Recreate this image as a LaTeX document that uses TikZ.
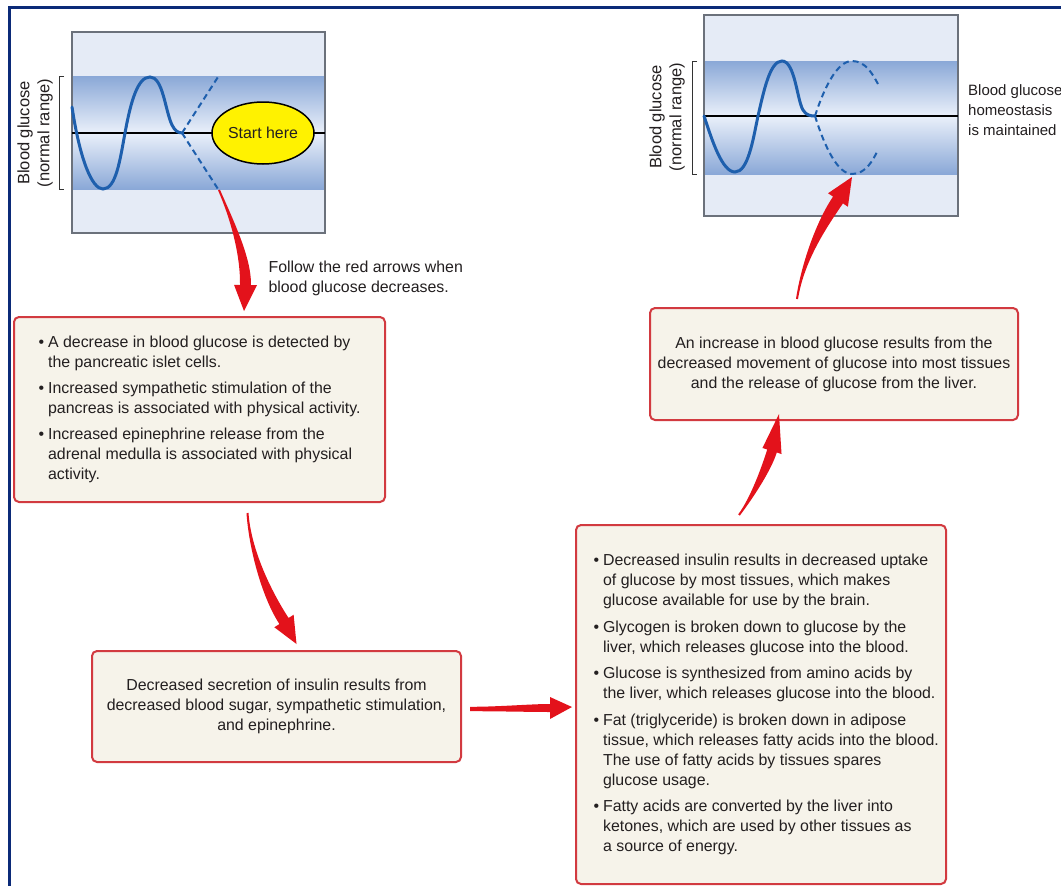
\documentclass[tikz,border=0pt]{standalone}
\usepackage{fontspec}
\setmainfont{Liberation Sans}
\usetikzlibrary{calc,shapes.geometric}
\definecolor{graphbg}{HTML}{E5EBF6}
\definecolor{bandedge}{HTML}{8AA8D7}
\definecolor{bandmid}{HTML}{EAF0FA}
\definecolor{wavecol}{HTML}{1E5FAD}
\definecolor{framegray}{HTML}{6B717B}
\definecolor{boxfill}{HTML}{F6F3EA}
\definecolor{boxred}{HTML}{D23A40}
\definecolor{arrowred}{HTML}{E3121B}
\definecolor{startyellow}{HTML}{FFF200}
\definecolor{txt}{HTML}{231F20}
\definecolor{framecol}{HTML}{0B2A78}
\newcommand\taparrow[8]{%
\fill[arrowred] ($(#1)!#6!90:(#2)$) .. controls ($(#2)!#6!-90:(#1)$) and ($(#3)!#7!90:(#4)$) .. ($(#4)!#7!-90:(#3)$)
 -- ($(#4)!#8!-90:(#3)$) -- (#5) -- ($(#4)!#8!90:(#3)$) -- ($(#4)!#7!90:(#3)$)
 .. controls ($(#3)!#7!-90:(#4)$) and ($(#2)!#6!90:(#1)$) .. ($(#1)!#6!-90:(#2)$) -- cycle;}
\begin{document}
\begin{tikzpicture}[x=1pt,y=-1pt,
  every node/.style={font=\fontsize{15.9}{20}\selectfont, text=txt},
  infobox/.style={draw=boxred, line width=2, fill=boxfill, rounded corners=5, inner sep=0},
  graphframe/.style={draw=framegray, line width=1.2, inner sep=0},
  wave/.style={wavecol, line width=3, line cap=round},
  dashwave/.style={wavecol, line width=2, dash pattern=on 6pt off 4pt},
  bracket/.style={black!80, line width=0.9},
  axislabel/.style={rotate=90, align=center, font=\fontsize{16.5}{20}\selectfont},
  midline/.style={black, line width=1.1}]
\useasboundingbox (0,0) rectangle (1061,886);
\fill[white] (0,0) rectangle (1061,886);
\draw[framecol, line width=3] (1061,7) -- (9,7) -- (9,886);

% ---------- graph 1 ----------
\fill[graphbg] (72,32) rectangle (325,233);
\shade[top color=bandedge, bottom color=bandmid] (72,76) rectangle (325,133);
\shade[top color=bandmid, bottom color=bandedge] (72,133) rectangle (325,189);
\node[graphframe, minimum width=253, minimum height=201] (g1) at (198.5,132.5) {};
\draw[midline] (72,133) -- (325,133);
\draw[bracket] (64,76) -- (59,76) -- (59,189) -- (64,189);
\node[axislabel] (lab1) at (35,133) {Blood glucose\\(normal range)};
\draw[wave] (72,107) .. controls (80,160) and (92,189) .. (103,189)
  .. controls (116,189) and (120,160) .. (125,133)
  .. controls (131,100) and (138,77) .. (150,77)
  .. controls (163,77) and (165,110) .. (172,125)
  .. controls (175,131) and (178,133) .. (183,133);
\draw[dashwave] (182,133) -- (218,77);
\draw[dashwave] (182,133) -- (218,189);
\node[ellipse, draw=black, line width=1.5, fill=startyellow, minimum width=102, minimum height=62, inner sep=0] (start) at (263,133) {Start here};

% ---------- graph 2 ----------
\fill[graphbg] (704,15) rectangle (958,216);
\shade[top color=bandedge, bottom color=bandmid] (704,61) rectangle (958,116);
\shade[top color=bandmid, bottom color=bandedge] (704,116) rectangle (958,174);
\node[graphframe, minimum width=254, minimum height=201] (g2) at (831,115.5) {};
\draw[midline] (704,116) -- (958,116);
\draw[bracket] (697,61) -- (692,61) -- (692,174) -- (697,174);
\node[axislabel] (lab2) at (667,117) {Blood glucose\\(normal range)};
\draw[wave] (704,116) .. controls (712,140) and (722,172) .. (735,172)
  .. controls (748,172) and (753,140) .. (758,116)
  .. controls (764,90) and (770,61) .. (782,61)
  .. controls (795,61) and (797,100) .. (803,110)
  .. controls (806,115) and (810,116) .. (815,116);
\draw[dashwave] (815,116) .. controls (825,85) and (838,61) .. (852,61) .. controls (866,61) and (873,75) .. (878,84);
\draw[dashwave] (815,116) .. controls (825,148) and (838,174) .. (852,174) .. controls (866,174) and (873,160) .. (878,150);
\node[anchor=west, align=left, inner sep=0, font=\fontsize{15}{20}\selectfont] (homeo) at (968,110) {Blood glucose\\homeostasis\\is maintained};

% ---------- notes and boxes ----------
\node[anchor=west, align=left] (follow) at (265,278) {Follow the red arrows when\\blood glucose decreases.};

\node[infobox, minimum width=371, minimum height=185] (b1) at (199.5,409.5) {};
\node[anchor=west] (t1) at ($(b1.west)+(22,0)$) {\begin{tabular}{@{}l@{\hspace{4pt}}l@{}}
\textbullet & A decrease in blood glucose is detected by\\
 & the pancreatic islet cells.\\[6pt]
\textbullet & Increased sympathetic stimulation of the\\
 & pancreas is associated with physical activity.\\[6pt]
\textbullet & Increased epinephrine release from the\\
 & adrenal medulla is associated with physical\\
 & activity.
\end{tabular}};

\node[infobox, minimum width=369, minimum height=111, align=center] (b2) at (276.5,706.5)
 {Decreased secretion of insulin results from\\decreased blood sugar, sympathetic stimulation,\\and epinephrine.};

\node[infobox, minimum width=370, minimum height=359] (b3) at (761,704.5) {};
\node[anchor=west] (t3) at ($(b3.west)+(15,0)$) {\begin{tabular}{@{}l@{\hspace{4pt}}l@{}}
\textbullet & Decreased insulin results in decreased uptake\\
 & of glucose by most tissues, which makes\\
 & glucose available for use by the brain.\\[6.5pt]
\textbullet & Glycogen is broken down to glucose by the\\
 & liver, which releases glucose into the blood.\\[6.5pt]
\textbullet & Glucose is synthesized from amino acids by\\
 & the liver, which releases glucose into the blood.\\[6.5pt]
\textbullet & Fat (triglyceride) is broken down in adipose\\
 & tissue, which releases fatty acids into the blood.\\
 & The use of fatty acids by tissues spares\\
 & glucose usage.\\[6.5pt]
\textbullet & Fatty acids are converted by the liver into\\
 & ketones, which are used by other tissues as\\
 & a source of energy.
\end{tabular}};

\node[infobox, minimum width=368, minimum height=112, align=center] (b4) at (834,364)
 {An increase in blood glucose results from the\\decreased movement of glucose into most tissues\\and the release of glucose from the liver.};

% ---------- red arrows ----------
\coordinate (a1s) at (219,190); \coordinate (a1c) at (233,222); \coordinate (a1d) at (246,258);
\coordinate (a1e) at (245.5,285); \coordinate (a1t) at (244,311);
\taparrow{a1s}{a1c}{a1d}{a1e}{a1t}{1pt}{5.5pt}{11.5pt}

\coordinate (a2s) at ($(b1.south)+(48,10)$); \coordinate (a2c) at (250,550); \coordinate (a2d) at (267,595);
\coordinate (a2e) at (284,621); \coordinate (a2t) at ($(b2.north)+(20,-6)$);
\taparrow{a2s}{a2c}{a2d}{a2e}{a2t}{1pt}{5.5pt}{11.5pt}

\coordinate (a3s) at ($(b2.east)+(8,2.5)$); \coordinate (a3c) at (500,709); \coordinate (a3d) at (530,708);
\coordinate (a3e) at (550,708); \coordinate (a3t) at ($(b3.west)+(-3,2.5)$);
\taparrow{a3s}{a3c}{a3d}{a3e}{a3t}{2.2pt}{4pt}{11pt}

\coordinate (a4s) at ($(b3.north)+(-22,-9)$); \coordinate (a4c) at (751,499); \coordinate (a4d) at (766,470);
\coordinate (a4e) at (772,451); \coordinate (a4t) at ($(b4.south)+(-55,-7)$);
\taparrow{a4s}{a4c}{a4d}{a4e}{a4t}{1pt}{5pt}{10pt}

\coordinate (a5s) at ($(b4.north)+(-37,-8)$); \coordinate (a5c) at (803,260); \coordinate (a5d) at (823,222);
\coordinate (a5e) at (838,200); \coordinate (a5t) at (852,177);
\taparrow{a5s}{a5c}{a5d}{a5e}{a5t}{1pt}{6pt}{12pt}
\end{tikzpicture}
\end{document}
